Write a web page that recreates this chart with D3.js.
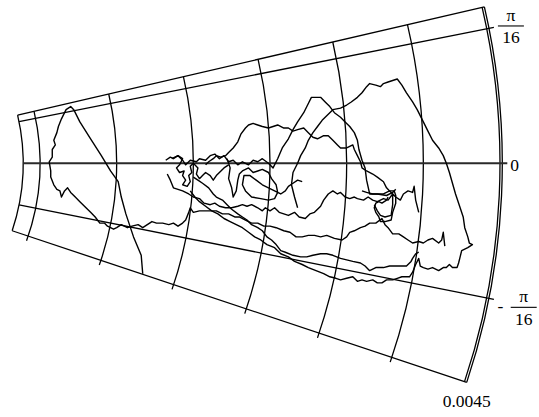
<!DOCTYPE html>
<html><head><meta charset="utf-8">
<script src="https://cdn.jsdelivr.net/npm/d3@7"></script>
<style>html,body{margin:0;padding:0;background:#fff;}svg{display:block;}
text{font-family:"Liberation Serif","Times New Roman",Times,serif;}</style>
</head><body>
<svg id="chart" width="539" height="417"></svg>
<script>
// Polar plot: paths given as [x, y] = [r·cosθ, r·sinθ] in units of 1e-5
const unit = 1e-5;
const radialGrid = [0.0015, 0.002, 0.0025, 0.003, 0.0035, 0.004, 0.0045];
const angleTicks = [Math.PI / 16, 0, -Math.PI / 16];
const radialLabel = "0.0045";
const rMin = 0.00139, rMax = 0.004515;
const thetaMin = -0.322, thetaMax = 0.228;

const pathA = [[217,-72],[216,-60],[211,-48],[206,-33],[203,-22],[201,-12],[196,-5],[190,5],[183,16],[176,27],[172,35],[170,37],[167,35],[164,29],[162,24],[161,20],[159,15],[160,12],[158,9],[158,4],[156,1],[157,-5],[157,-9],[159,-14],[161,-17],[163,-18],[164,-22],[166,-18],[168,-16],[170,-19],[173,-22],[176,-25],[180,-29],[183,-32],[186,-35],[189,-39],[192,-39],[194,-41],[198,-43],[200,-42],[203,-40],[207,-42],[210,-41],[214,-40],[217,-42],[220,-40],[223,-38],[226,-39],[230,-39],[234,-40],[237,-39],[240,-41],[243,-39],[245,-37],[247,-32],[248,-29],[250,-32],[254,-31],[257,-31],[261,-31],[265,-31],[269,-33],[273,-33],[277,-35],[280,-35],[284,-37],[288,-39],[292,-39],[296,-41],[300,-41],[304,-42],[309,-44],[313,-45],[317,-48],[321,-48],[325,-47],[329,-47],[333,-48],[337,-47],[342,-49],[347,-50],[350,-48],[352,-45],[355,-44],[359,-42],[362,-41],[365,-39],[369,-39],[373,-36],[375,-40],[377,-42],[380,-46],[384,-46],[387,-48],[390,-50],[393,-52],[397,-51],[400,-52],[403,-50],[406,-49],[410,-52],[412,-50],[413,-45],[414,-54]];

const pathB = [[236,3],[240,5],[243,2],[245,-1],[248,2],[252,1],[254,3],[258,2],[261,5],[264,6],[267,3],[270,5],[273,1],[276,2],[279,-1],[282,1],[286,-1],[289,2],[292,1],[295,3],[299,0],[302,-3],[305,3],[308,10],[312,16],[315,22],[318,27],[322,33],[325,39],[327,43],[333,43],[336,40],[339,37],[342,33],[346,30],[349,27],[352,24],[355,20],[357,15],[358,9],[360,2],[362,-3],[363,-11],[365,-20],[370,-20],[376,-21],[380,-19],[382,-17]];

const pathC = [[318,-29],[316,-22],[314,-14],[315,-6],[318,0],[320,5],[323,10],[325,15],[328,20],[331,24],[334,28],[337,31],[341,35],[346,36],[350,38],[353,40],[357,43],[360,46],[363,50],[365,52],[369,51],[372,50],[374,52],[377,53],[380,54],[383,55],[386,51],[389,46],[393,40],[396,35],[400,27],[403,21],[406,15],[410,10],[413,5],[415,0],[417,-6],[419,-13],[421,-20],[424,-29],[426,-35],[427,-42],[429,-48],[430,-52],[432,-53],[429,-55],[425,-57],[424,-61],[423,-65],[422,-68],[419,-68],[417,-66],[415,-68],[413,-68],[410,-70],[406,-68],[403,-69],[400,-68],[398,-67],[397,-62],[395,-66],[393,-71],[391,-74],[389,-74],[386,-74],[383,-75],[380,-76],[376,-76],[373,-78],[370,-78],[367,-76],[363,-77],[360,-76],[357,-77],[354,-74],[350,-75],[346,-76],[343,-75],[339,-74],[335,-72],[330,-70],[325,-68],[321,-66],[316,-64],[312,-61],[307,-59],[303,-55],[298,-53],[294,-50],[290,-48],[286,-45],[282,-42],[278,-40],[274,-38],[270,-36],[266,-33],[262,-31],[258,-28],[254,-25],[251,-22],[248,-18]];

const pathD = [[258,-1],[260,1],[263,3],[265,5],[268,4],[271,5],[273,7],[276,10],[279,14],[281,19],[284,23],[286,25],[289,26],[292,25],[295,24],[299,23],[302,24],[305,25],[309,23],[312,23],[315,21],[318,22],[322,23],[325,20],[328,17],[331,16],[335,18],[338,18],[341,15],[344,12],[346,10],[350,10],[352,11],[354,12],[355,9],[357,5],[359,1],[360,-3],[363,-5],[367,-7],[370,-9],[374,-12],[376,-16],[378,-18],[380,-20],[380,-27],[379,-34],[375,-35],[372,-34],[370,-31],[368,-27]];

const pathE = [[233,-7],[235,-11],[237,-16],[240,-17],[243,-18],[247,-20],[250,-22],[254,-23],[257,-26],[261,-27],[264,-26],[267,-28],[271,-29],[275,-29],[279,-28],[282,-27],[285,-28],[288,-27],[292,-29],[295,-31],[297,-29],[300,-31],[303,-29],[306,-32],[309,-33],[312,-34],[316,-32],[319,-35],[323,-36],[326,-33],[329,-32],[333,-28],[335,-24],[338,-20],[341,-18],[344,-20],[346,-19],[349,-22],[352,-23],[355,-22],[357,-23],[361,-24],[364,-22],[367,-24],[370,-25],[374,-23],[377,-24],[380,-20],[382,-22],[385,-24],[387,-20],[390,-18],[393,-19],[394,-15],[395,-24],[397,-32]];

const pathF = [[250,-9],[253,-11],[256,-13],[260,-16],[263,-20],[265,-22],[269,-24],[272,-27],[275,-30],[279,-33],[282,-35],[285,-37],[288,-40],[292,-42],[295,-44],[298,-48],[301,-50],[304,-53],[307,-57],[310,-58],[315,-60],[320,-61],[324,-61],[328,-60],[333,-59],[337,-59],[341,-60],[346,-62],[350,-63],[354,-64],[359,-65],[362,-67],[365,-70],[369,-68],[374,-68],[378,-67],[383,-67],[387,-67],[389,-67],[392,-64],[393,-62],[395,-59],[397,-58]];

const pathH = [[272,3],[274,-3],[273,-10],[275,-16],[276,-22],[278,-18],[279,-11],[280,-7],[282,-5],[286,-3],[289,-6],[292,-5],[295,-4],[299,-6],[301,-10],[304,-14],[305,-19],[303,-23],[299,-24],[294,-23],[288,-22],[284,-18],[282,-14],[283,-8],[287,-8],[291,-11],[295,-14],[299,-16],[303,-18],[307,-20],[310,-18],[312,-15],[315,-13],[318,-11],[321,-12]];

const pathI = [[232,2],[235,4],[237,3],[240,5],[243,3],[241,-1],[239,-3],[241,-6],[244,-5],[243,-8],[245,-11],[243,-14],[246,-15],[248,-12],[247,-8],[249,-6],[248,-2],[250,0],[253,-3],[252,-7],[254,-10],[256,-8],[258,-6],[261,-8],[263,-11],[265,-8],[267,-6],[270,-3],[273,-1]];

const pathJ = [[360,-18],[363,-19],[367,-20],[370,-20],[374,-20],[378,-18],[381,-18],[382,-21],[382,-26],[380,-32],[379,-37],[375,-38],[372,-38],[371,-35],[369,-32],[368,-29],[369,-26],[371,-25],[373,-26],[376,-24],[377,-22]];

const paths = [pathA, pathB, pathC, pathD, pathE, pathF, pathH, pathI, pathJ];

// ---------- drawing ----------
const svg = d3.select("#chart");
const origin = [-190, 163.3];
const rScale = d3.scaleLinear().domain([0, 0.0045]).range([0, 690]);
const g = svg.append("g").attr("transform", `translate(${origin[0]},${origin[1]})`);
const toD3Angle = t => Math.PI / 2 - t;
const tickPx = 5;
const gridW = 1.3, dataW = 1.4;

function arcD(r, t0, t1) {
  const p = d3.path();
  p.arc(0, 0, rScale(r), -t0, -t1, false);
  return p.toString();
}
const radial = d3.lineRadial().angle(d => toD3Angle(d.t)).radius(d => rScale(d.r));
const stroke = (sel, w) => sel.attr("fill", "none").attr("stroke", "#000").attr("stroke-width", w);

// grid arcs (with small tick past the lower edge)
radialGrid.forEach(r => {
  const ext = tickPx / rScale(r);
  stroke(g.append("path").attr("d", arcD(r, thetaMax, thetaMin - (r < 0.0045 ? ext : 0))), gridW);
});
// frame
stroke(g.append("path").attr("d", arcD(rMin, thetaMax, thetaMin)), gridW);
stroke(g.append("path").attr("d", arcD(rMax, thetaMax, thetaMin)), gridW);
[thetaMax, thetaMin].forEach(t => {
  stroke(g.append("path").attr("d", radial([{t, r: rMin}, {t, r: rMax}])), gridW);
});
// angular spokes
const rEnd = rMax + rScale.invert(tickPx);
angleTicks.forEach(t => {
  const s = g.append("path").attr("d", radial([{t, r: rMin}, {t, r: rEnd}]));
  if (t === 0) s.attr("fill", "none").attr("stroke", "#2a2a2a").attr("stroke-width", 2);
  else stroke(s, gridW);
});

// data paths
paths.forEach(p => {
  const pts = p.map(([x, y]) => ({r: Math.hypot(x, y) * unit, t: Math.atan2(y, x)}));
  g.append("path").attr("d", radial(pts))
    .attr("fill", "none").attr("stroke", "#000").attr("stroke-width", dataW)
    .attr("stroke-linejoin", "round");
});

// labels
const fs = 17.5;
function txt(x, y, s, anchor) {
  return g.append("text").attr("x", x).attr("y", y).text(s)
    .attr("font-size", fs).attr("fill", "#000")
    .attr("text-anchor", anchor || "start");
}
function fraction(x0, yBar, num, den, w) {
  g.append("line").attr("x1", x0).attr("x2", x0 + w).attr("y1", yBar).attr("y2", yBar)
    .attr("stroke", "#000").attr("stroke-width", 1.1);
  txt(x0 + w / 2, yBar - 5, num, "middle");
  txt(x0 + w / 2, yBar + 17.5, den, "middle");
}
const endPt = t => d3.pointRadial(toD3Angle(t), rScale(rEnd));
{
  const [x, y] = endPt(Math.PI / 16);
  fraction(x + 4, y - 1.3, "π", "16", 26);
}
{
  const [x, y] = endPt(0);
  txt(x + 3, y + 8, "0");
}
{
  const [x, y] = endPt(-Math.PI / 16);
  txt(x + 3.5, y + 12.3, "-");
  fraction(x + 16.8, y + 8, "π", "16", 26);
}
{
  const [x, y] = d3.pointRadial(toD3Angle(thetaMin), rScale(rMax));
  txt(x, y + 24.5, radialLabel, "middle");
}
</script>
</body></html>
